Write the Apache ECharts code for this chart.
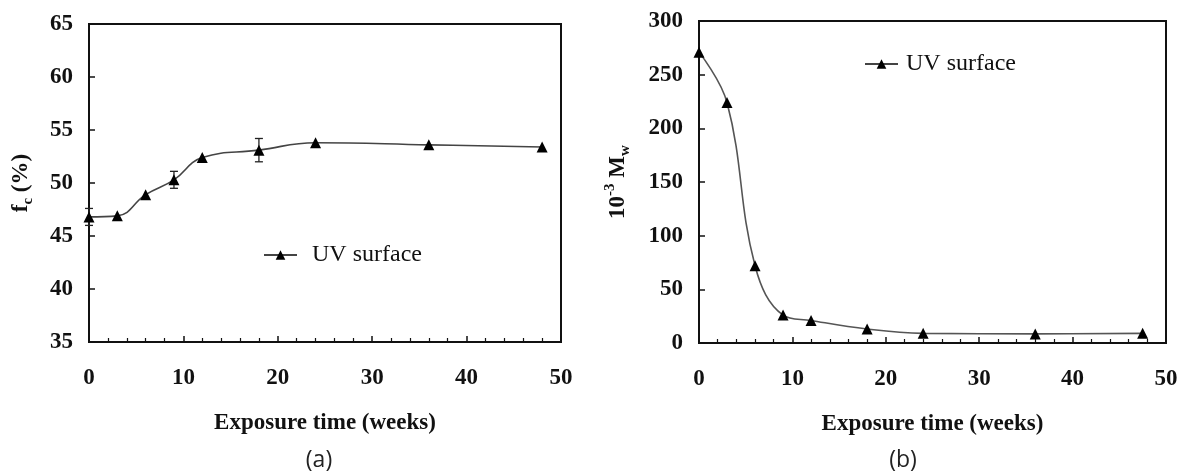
<!DOCTYPE html>
<html>
<head>
<meta charset="utf-8">
<script src="https://cdn.jsdelivr.net/npm/echarts@6/dist/echarts.min.js"></script>
<style>
  html, body { margin: 0; padding: 0; background: #fff; }
  #chart { width: 1181px; height: 475px; }
</style>
</head>
<body>
<div id="chart"></div>
<script>
// panel (a): crystallinity vs exposure time
const weeksA = [0, 3, 6, 9, 12, 18, 24, 36, 48];
const fcValues = [46.8, 46.9, 48.9, 50.3, 52.4, 53.1, 53.8, 53.6, 53.4];
// error bars in panel (a)
const errWeeks = [0, 9, 18];
const errLow = [46.0, 49.5, 52.0];
const errHigh = [47.6, 51.1, 54.2];

// panel (b): molecular weight vs exposure time
const weeksB = [0, 3, 6, 9, 12, 18, 24, 36, 47.5];
const mwValues = [271, 224, 72, 26, 21, 13, 9, 8.5, 9];

const seriesName = "UV surface";

const serif = "Liberation Serif";
const ink = "#111";

const chart = echarts.init(document.getElementById("chart"));

const tickLabel = {
  fontFamily: serif,
  fontWeight: "bold",
  fontSize: 23,
  color: ink,
};

const axisNameRich = {
  b: { fontFamily: serif, fontWeight: "bold", fontSize: 23, color: ink, lineHeight: 30 },
  s: { fontFamily: serif, fontWeight: "bold", fontSize: 15, color: ink, lineHeight: 14, verticalAlign: "bottom" },
  p: { fontFamily: serif, fontWeight: "bold", fontSize: 15, color: ink, lineHeight: 14, verticalAlign: "top" },
};

function xAxisFor(gridIndex) {
  return {
    gridIndex: gridIndex,
    type: "value",
    min: 0,
    max: 50,
    interval: 10,
    name: "Exposure time (weeks)",
    nameLocation: "middle",
    nameGap: 70,
    nameTextStyle: { fontFamily: serif, fontWeight: "bold", fontSize: 23, color: ink },
    axisLine: { show: true, lineStyle: { color: ink, width: 2 } },
    axisTick: { inside: true, length: 6, lineStyle: { color: ink, width: 1.5 } },
    minorTick: { show: true, splitNumber: 5, length: 4, lineStyle: { color: ink, width: 1.2 } },
    axisLabel: Object.assign({ margin: 25 }, tickLabel),
    splitLine: { show: false },
  };
}

function errorBar(params, api) {
  const x = api.value(0);
  const top = api.coord([x, api.value(2)]);
  const bottom = api.coord([x, api.value(1)]);
  const half = 4;
  const style = { stroke: "#222", lineWidth: 1.3 };
  return {
    type: "group",
    children: [
      { type: "line", shape: { x1: top[0], y1: top[1], x2: bottom[0], y2: bottom[1] }, style: style },
      { type: "line", shape: { x1: top[0] - half, y1: top[1], x2: top[0] + half, y2: top[1] }, style: style },
      { type: "line", shape: { x1: bottom[0] - half, y1: bottom[1], x2: bottom[0] + half, y2: bottom[1] }, style: style },
    ],
  };
}

const legendBase = {
  data: [seriesName],
  orient: "horizontal",
  padding: 0,
  itemWidth: 33,
  itemHeight: 12,
  textStyle: { fontFamily: serif, fontSize: 24, color: ink },
};

const option = {
  backgroundColor: "#fff",
  animation: false,
  grid: [
    { left: 89, top: 24, width: 472, height: 318, show: true, borderColor: ink, borderWidth: 2, backgroundColor: "transparent" },
    { left: 699, top: 21, width: 467, height: 322, show: true, borderColor: ink, borderWidth: 2, backgroundColor: "transparent" },
  ],
  legend: [
    Object.assign({}, legendBase, { left: 263, top: 243, textStyle: Object.assign({}, legendBase.textStyle, { padding: [0, 0, 0, 10] }) }),
    Object.assign({}, legendBase, { left: 864, top: 52, textStyle: Object.assign({}, legendBase.textStyle, { padding: [0, 0, 0, 3] }) }),
  ],
  xAxis: [xAxisFor(0), xAxisFor(1)],
  yAxis: [
    {
      gridIndex: 0,
      type: "value",
      min: 35,
      max: 65,
      interval: 5,
      name: "{b|f}{s|c}{b| (%)}",
      nameLocation: "middle",
      nameGap: 53,
      nameTextStyle: { rich: axisNameRich },
      axisLine: { show: true, lineStyle: { color: ink, width: 2 } },
      axisTick: { inside: true, length: 6, lineStyle: { color: ink, width: 1.5 } },
      axisLabel: Object.assign({ margin: 16 }, tickLabel),
      splitLine: { show: false },
    },
    {
      gridIndex: 1,
      type: "value",
      min: 0,
      max: 300,
      interval: 50,
      name: "{b|10}{p|-3}{b| M}{s|w}",
      nameLocation: "middle",
      nameGap: 66,
      nameTextStyle: { rich: axisNameRich },
      axisLine: { show: true, lineStyle: { color: ink, width: 2 } },
      axisTick: { inside: true, length: 6, lineStyle: { color: ink, width: 1.5 } },
      axisLabel: Object.assign({ margin: 16 }, tickLabel),
      splitLine: { show: false },
    },
  ],
  series: [
    {
      name: seriesName,
      type: "line",
      xAxisIndex: 0,
      yAxisIndex: 0,
      data: weeksA.map((w, i) => [w, fcValues[i]]),
      smooth: 0.45,
      clip: false,
      symbol: "triangle",
      symbolSize: 11,
      itemStyle: { color: "#000" },
      lineStyle: { color: "#444", width: 1.6 },
      z: 3,
    },
    {
      type: "custom",
      xAxisIndex: 0,
      yAxisIndex: 0,
      data: errWeeks.map((w, i) => [w, errLow[i], errHigh[i]]),
      renderItem: errorBar,
      clip: false,
      silent: true,
      z: 2,
    },
    {
      name: seriesName,
      type: "line",
      xAxisIndex: 1,
      yAxisIndex: 1,
      data: weeksB.map((w, i) => [w, mwValues[i]]),
      smooth: 0.4,
      clip: false,
      symbol: "triangle",
      symbolSize: 11,
      itemStyle: { color: "#000" },
      lineStyle: { color: "#555", width: 1.6 },
      z: 3,
    },
  ],
  graphic: [
    { type: "text", x: 319, y: 460, style: { text: "(a)", fontFamily: "Open Sans", fontSize: 23, fill: "#222", textAlign: "center", textVerticalAlign: "middle" } },
    { type: "text", x: 903, y: 460, style: { text: "(b)", fontFamily: "Open Sans", fontSize: 23, fill: "#222", textAlign: "center", textVerticalAlign: "middle" } },
  ],
};

chart.setOption(option);
</script>
</body>
</html>
